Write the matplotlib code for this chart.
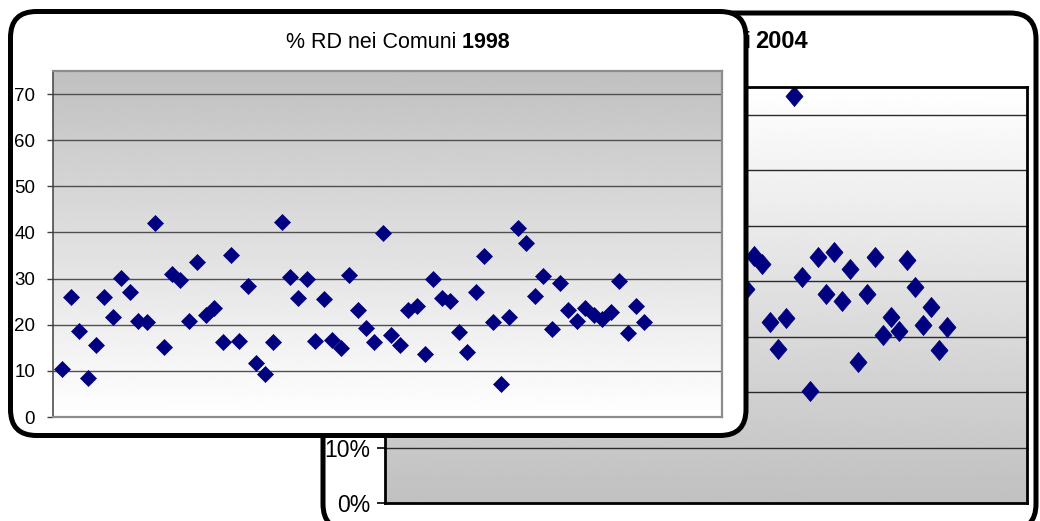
import numpy as np
import matplotlib
matplotlib.use('Agg')
import matplotlib.pyplot as plt
from matplotlib.patches import FancyBboxPatch
from matplotlib.path import Path

W, H = 1040, 521

# % raccolta differenziata per comune, 1998 (foreground chart)
comuni_1998 = list(range(1, 71))
rd_1998 = [10.3, 26.1, 18.6, 8.4, 15.6, 26.0, 21.7, 30.2, 27.1, 20.9,
           20.7, 42.0, 15.2, 30.9, 29.6, 20.9, 33.6, 22.2, 23.6, 16.3,
           35.2, 16.5, 28.4, 11.7, 9.3, 16.2, 42.2, 30.4, 25.8, 29.9,
           16.4, 25.6, 16.7, 15.0, 30.8, 23.2, 19.4, 16.2, 39.9, 17.8,
           15.7, 23.1, 24.0, 13.6, 30.0, 25.7, 25.1, 18.5, 14.1, 27.0,
           35.0, 20.7, 7.2, 21.6, 40.9, 37.7, 26.2, 30.5, 19.0, 29.0,
           23.1, 20.9, 23.6, 22.2, 21.3, 22.7, 29.5, 18.3, 24.0, 20.7]

# 2004 chart (background) - only the points not hidden by the 1998 panel
comuni_2004 = list(range(45, 71))
rd_2004 = [38.6, 44.6, 43.1, 32.7, 27.7, 33.3, 73.4, 40.8, 20.2, 44.3,
           37.7, 45.2, 36.4, 42.2, 25.4, 37.7, 44.4, 30.3, 33.6, 31.0,
           43.8, 39.0, 32.1, 35.3, 27.5, 31.8]

yticks = [0, 10, 20, 30, 40, 50, 60, 70]
ylabels_1998 = [str(v) for v in yticks]
ylabels_2004 = [str(v) + '%' for v in yticks]

plt.rcParams['font.family'] = ['Liberation Sans', 'DejaVu Sans']

fig = plt.figure(figsize=(10.4, 5.21), dpi=100)

NAVY = '#000080'


def layer(z):
    lay = fig.add_axes([0, 0, 1, 1])
    lay.set_xlim(0, W)
    lay.set_ylim(H, 0)
    lay.axis('off')
    lay.set_zorder(z)
    return lay


def panel(lay, box, plot, top, bot):
    x0, y0, x1, y1 = box
    lay.add_patch(FancyBboxPatch((x0, y0), x1 - x0, y1 - y0,
                                 boxstyle='round,pad=0,rounding_size=26',
                                 fc='white', ec='black', lw=3.6, zorder=1))
    px0, py0, px1, py1 = plot
    grad = np.linspace(top, bot, 256).reshape(-1, 1)
    lay.imshow(grad, cmap='gray', vmin=0, vmax=1, aspect='auto', zorder=2,
               extent=[px0, px1, py1, py0], interpolation='bilinear')
    lay.set_xlim(0, W)
    lay.set_ylim(H, 0)


def plot_axes(plot, z):
    px0, py0, px1, py1 = plot
    ax = fig.add_axes([px0 / W, 1 - py1 / H, (px1 - px0) / W, (py1 - py0) / H])
    ax.set_zorder(z)
    ax.set_facecolor('none')
    return ax


# ---- back panel (2004)
box04 = (323, 13, 1036, 530)
plot04 = (385, 87, 1027, 503)
lay04 = layer(0)
panel(lay04, box04, plot04, 1.0, 0.753)
t2 = lay04.text(808, 53, '2004', fontsize=17, fontweight='bold',
                ha='right', va='bottom')
lay04.annotate('% RD nei Comuni', xy=(0, 0), xycoords=t2, fontsize=17,
               xytext=(-3, 0), textcoords='offset points',
               ha='right', va='bottom')

ax04 = plot_axes(plot04, 1)
tall_diamond = Path([(0, 1.18), (1, 0), (0, -1.18), (-1, 0), (0, 1.18)],
                    [Path.MOVETO, Path.LINETO, Path.LINETO, Path.LINETO, Path.CLOSEPOLY])
ax04.plot(comuni_2004, rd_2004, ls='none', marker=tall_diamond, ms=14.5,
          mfc=NAVY, mec=NAVY, mew=0.5)
ax04.set_xlim(0, 80)
ax04.set_ylim(0, 75)
ax04.set_xticks([])
ax04.set_yticks(yticks)
ax04.set_yticklabels(ylabels_2004, fontsize=16.5)
ax04.tick_params(axis='y', length=5.8, width=1.2, color='black', pad=5)
for v in yticks[1:]:
    ax04.axhline(v, color='#2a2a2a', lw=1, zorder=1)
for s in ax04.spines.values():
    s.set_color('black')
    s.set_linewidth(2)

# ---- front panel (1998)
box98 = (10.5, 11.5, 746, 435.5)
plot98 = (53, 71, 722, 417)
lay98 = layer(2)
panel(lay98, box98, plot98, 0.753, 1.0)
t1 = lay98.text(286, 53, '% RD nei Comuni', fontsize=15.5, ha='left', va='bottom')
lay98.annotate(' 1998', xy=(1, 0), xycoords=t1, fontsize=15.5, fontweight='bold',
               ha='left', va='bottom')

ax98 = plot_axes(plot98, 3)
ax98.plot(comuni_1998, rd_1998, ls='none', marker='D', ms=8.3,
          mfc=NAVY, mec=NAVY, mew=0.5)
ax98.set_xlim(-0.1, 79.2)
ax98.set_ylim(0, 75)
ax98.set_xticks([])
ax98.set_yticks(yticks)
ax98.set_yticklabels(ylabels_1998, fontsize=13.5)
ax98.tick_params(axis='y', length=4.3, width=1, color='#404040', pad=8.6)
for v in yticks[1:]:
    ax98.axhline(v, color='#505050', lw=1, zorder=1)
for s in ax98.spines.values():
    s.set_color('#8c8c8c')
    s.set_linewidth(1.6)
ax98.spines['left'].set_color('#404040')
ax98.spines['left'].set_linewidth(1.1)

fig.savefig('out.png', dpi=100)
